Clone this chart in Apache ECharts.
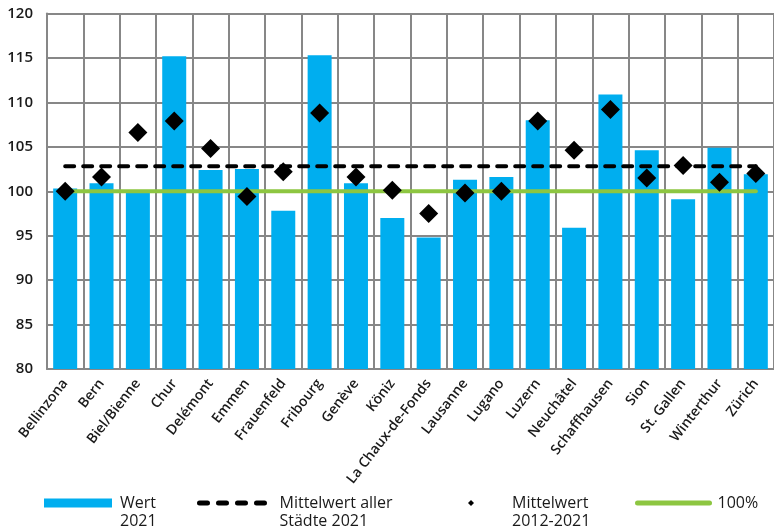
<!DOCTYPE html>
<html>
<head>
<meta charset="utf-8">
<script src="https://cdn.jsdelivr.net/npm/echarts@6/dist/echarts.min.js"></script>
<style>
html,body{margin:0;padding:0;background:#fff;}
#chart{width:774px;height:530px;}
</style>
</head>
<body>
<div id="chart"></div>
<script>
const cities = ['Bellinzona','Bern','Biel/Bienne','Chur','Delémont','Emmen','Frauenfeld','Fribourg','Genève','Köniz','La Chaux-de-Fonds','Lausanne','Lugano','Luzern','Neuchâtel','Schaffhausen','Sion','St. Gallen','Winterthur','Zürich'];
const wert2021 = [100.3,100.9,100.0,115.2,102.4,102.5,97.8,115.3,100.9,97.0,94.8,101.3,101.6,108.0,95.9,110.9,104.6,99.1,104.9,101.9];
const mittelwert2012_2021 = [100.0,101.6,106.6,107.9,104.8,99.4,102.2,108.8,101.6,100.1,97.5,99.8,100.0,107.9,104.6,109.2,101.5,102.9,101.0,102.0];
const mittelwertAlle2021 = 102.8;
const hundertProzent = 100;
const yTicks = [80,85,90,95,100,105,110,115,120];

const legendNames = {
  'Wert 2021': '\nWert\n2021',
  'Mittelwert aller Städte 2021': '\nMittelwert aller\nStädte 2021',
  'Mittelwert 2012-2021': '\nMittelwert\n2012-2021',
  '100%': '100%'
};
const fontFamily = '"Open Sans", "Noto Sans", sans-serif';
const legendText = {color:'#1a1a1a', fontSize:16, lineHeight:18, fontFamily: fontFamily, padding:[0,0,0,3]};
const fmt = n => legendNames[n];

const chart = echarts.init(document.getElementById('chart'), null, {renderer:'canvas'});
chart.setOption({
  animation:false,
  backgroundColor:'#fff',
  grid:{left:47, top:13.5, right:-5, bottom:161, containLabel:false},
  legend:[
    {data:['Wert 2021'], left:44, top:476, padding:0, itemWidth:68, itemHeight:9, formatter:fmt, textStyle:legendText, icon:'rect'},
    {data:['Mittelwert aller Städte 2021'], left:197, top:476, padding:0, itemWidth:72, itemHeight:10, formatter:fmt, textStyle:legendText,
      itemStyle:{opacity:0}, lineStyle:{width:5, cap:'round', type:[8,11]}},
    {data:['Mittelwert 2012-2021'], left:468, top:476, padding:0, itemWidth:6, itemHeight:6, formatter:fmt,
      textStyle:Object.assign({}, legendText, {padding:[0,0,0,33]})},
    {data:['100%'], left:635, top:494, padding:0, itemWidth:72, itemHeight:10, formatter:fmt, textStyle:legendText,
      itemStyle:{opacity:0}, lineStyle:{width:5, cap:'round'}}
  ],
  xAxis:{
    type:'category',
    data:cities,
    boundaryGap:true,
    axisLine:{show:true, lineStyle:{color:'#878787', width:2}},
    axisTick:{show:false},
    splitLine:{show:true, lineStyle:{color:'#878787', width:2}},
    axisLabel:{rotate:52, interval:0, fontSize:14, fontWeight:600, color:'#1a1a1a', fontFamily:fontFamily, margin:12}
  },
  yAxis:{
    type:'value',
    min:80, max:120, interval:5,
    axisLine:{show:true, lineStyle:{color:'#878787', width:2}},
    axisTick:{show:false},
    splitLine:{show:true, lineStyle:{color:'#878787', width:2}},
    axisLabel:{fontSize:15, fontWeight:600, color:'#1a1a1a', fontFamily:fontFamily, margin:14,
      formatter: v => yTicks.indexOf(v) >= 0 ? String(v) : ''}
  },
  series:[
    {name:'Wert 2021', type:'bar', data:wert2021, barWidth:'66%', itemStyle:{color:'#00aeef'}, z:2},
    {name:'Mittelwert aller Städte 2021', type:'line', symbol:'none',
      data:[[cities[0], mittelwertAlle2021],[cities[cities.length-1], mittelwertAlle2021]],
      lineStyle:{color:'#000', width:4, type:[9,9], cap:'round'}, itemStyle:{color:'#000'}, z:3},
    {name:'100%', type:'line', symbol:'none',
      data:[[cities[0], hundertProzent],[cities[cities.length-1], hundertProzent]],
      lineStyle:{color:'#8dc641', width:4, cap:'round'}, itemStyle:{color:'#8dc641'}, z:3},
    {name:'Mittelwert 2012-2021', type:'scatter', symbol:'diamond', symbolSize:19,
      data:mittelwert2012_2021, itemStyle:{color:'#000', opacity:1}, z:4}
  ]
});
</script>
</body>
</html>
